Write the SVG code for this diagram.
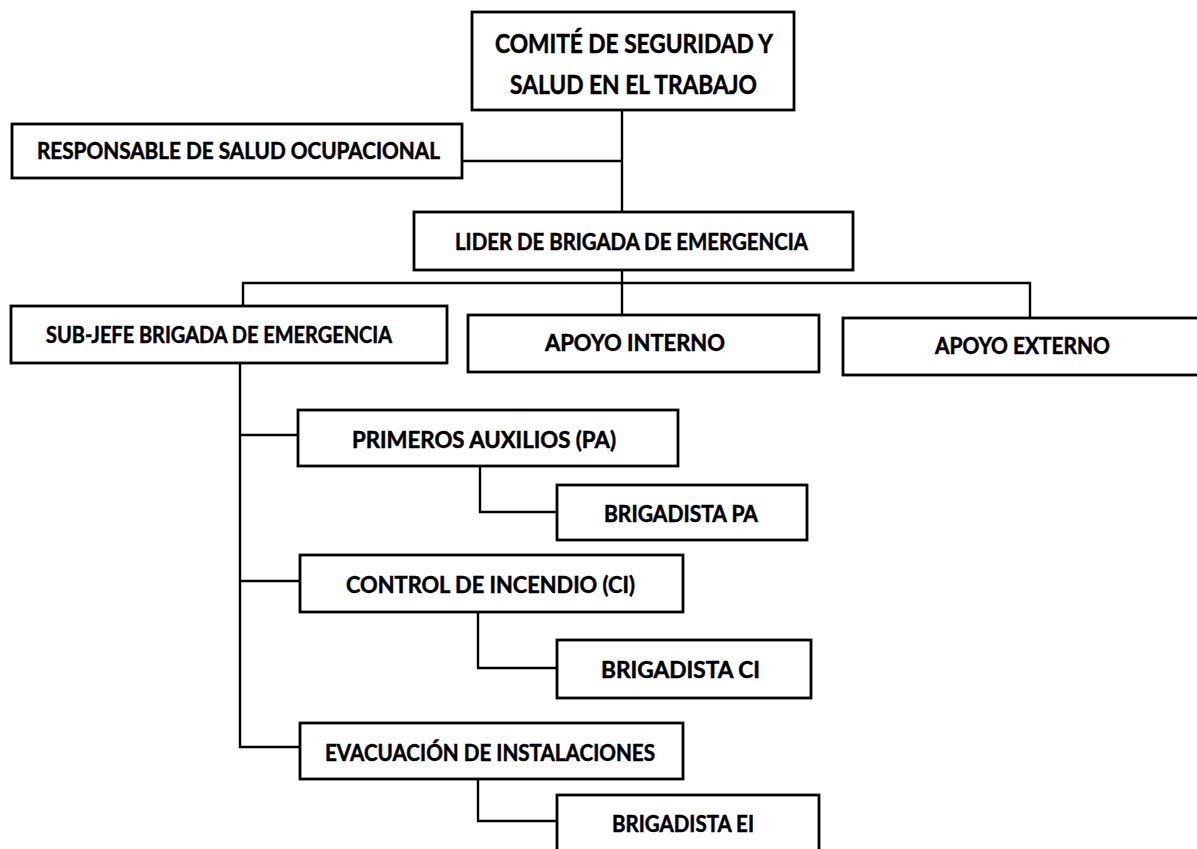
<svg xmlns="http://www.w3.org/2000/svg" width="1197" height="849" viewBox="0 0 1197 849">
<style>
.box{fill:#fff;stroke:#000;stroke-width:2.8}
.lbl{font-family:Lato,"Open Sans","Liberation Sans",sans-serif;font-weight:bold;fill:#000;stroke:#000;stroke-width:0.5;text-anchor:start}
.con{fill:none;stroke:#000;stroke-width:2.4}
</style>
<rect width="1197" height="849" fill="#fff"/>
<g id="connectors">
<path class="con" d="M622,110 V213"/>
<path class="con" d="M462,161 H622"/>
<path class="con" d="M622,270 V315"/>
<path class="con" d="M243,306 V283 H1030 V318"/>
<path class="con" d="M240,363 V747 H300"/>
<path class="con" d="M240,435 H298"/>
<path class="con" d="M240,581 H300"/>
<path class="con" d="M480,466 V512 H557"/>
<path class="con" d="M478,612 V668 H557"/>
<path class="con" d="M478,779 V821 H557"/>
</g>
<g id="comite">
<rect class="box" x="472" y="12" width="322" height="98"/>
<text class="lbl" x="495" y="53" font-size="26" textLength="278" lengthAdjust="spacingAndGlyphs">COMITÉ DE SEGURIDAD Y</text>
<text class="lbl" x="510" y="94" font-size="26" textLength="247" lengthAdjust="spacingAndGlyphs">SALUD EN EL TRABAJO</text>
</g>
<g id="responsable">
<rect class="box" x="12" y="124" width="450" height="54"/>
<text class="lbl" x="37" y="159" font-size="22" textLength="403" lengthAdjust="spacingAndGlyphs">RESPONSABLE DE SALUD OCUPACIONAL</text>
</g>
<g id="lider">
<rect class="box" x="414" y="212" width="439" height="58"/>
<text class="lbl" x="455" y="250" font-size="22" textLength="353" lengthAdjust="spacingAndGlyphs">LIDER DE BRIGADA DE EMERGENCIA</text>
</g>
<g id="subjefe">
<rect class="box" x="11" y="306" width="436" height="57"/>
<text class="lbl" x="46" y="343" font-size="22" textLength="346" lengthAdjust="spacingAndGlyphs">SUB-JEFE BRIGADA DE EMERGENCIA</text>
</g>
<g id="apoyo-interno">
<rect class="box" x="468" y="315" width="351" height="57"/>
<text class="lbl" x="545" y="351" font-size="22" textLength="180" lengthAdjust="spacingAndGlyphs">APOYO INTERNO</text>
</g>
<g id="apoyo-externo">
<rect class="box" x="843" y="318" width="360" height="57"/>
<text class="lbl" x="935" y="354" font-size="22" textLength="175" lengthAdjust="spacingAndGlyphs">APOYO EXTERNO</text>
</g>
<g id="primeros-auxilios">
<rect class="box" x="298" y="410" width="380" height="56"/>
<text class="lbl" x="352" y="448" font-size="22" textLength="264" lengthAdjust="spacingAndGlyphs">PRIMEROS AUXILIOS (PA)</text>
</g>
<g id="brigadista-pa">
<rect class="box" x="557" y="485" width="250" height="55"/>
<text class="lbl" x="604" y="522" font-size="22" textLength="154" lengthAdjust="spacingAndGlyphs">BRIGADISTA PA</text>
</g>
<g id="control-incendio">
<rect class="box" x="300" y="555" width="383" height="57"/>
<text class="lbl" x="346" y="593" font-size="22" textLength="289" lengthAdjust="spacingAndGlyphs">CONTROL DE INCENDIO (CI)</text>
</g>
<g id="brigadista-ci">
<rect class="box" x="557" y="640" width="254" height="58"/>
<text class="lbl" x="601" y="678" font-size="22" textLength="159" lengthAdjust="spacingAndGlyphs">BRIGADISTA CI</text>
</g>
<g id="evacuacion">
<rect class="box" x="300" y="723" width="383" height="56"/>
<text class="lbl" x="325" y="761" font-size="22" textLength="330" lengthAdjust="spacingAndGlyphs">EVACUACIÓN DE INSTALACIONES</text>
</g>
<g id="brigadista-ei">
<rect class="box" x="557" y="795" width="262" height="65"/>
<text class="lbl" x="612" y="832" font-size="22" textLength="142" lengthAdjust="spacingAndGlyphs">BRIGADISTA EI</text>
</g>
</svg>
